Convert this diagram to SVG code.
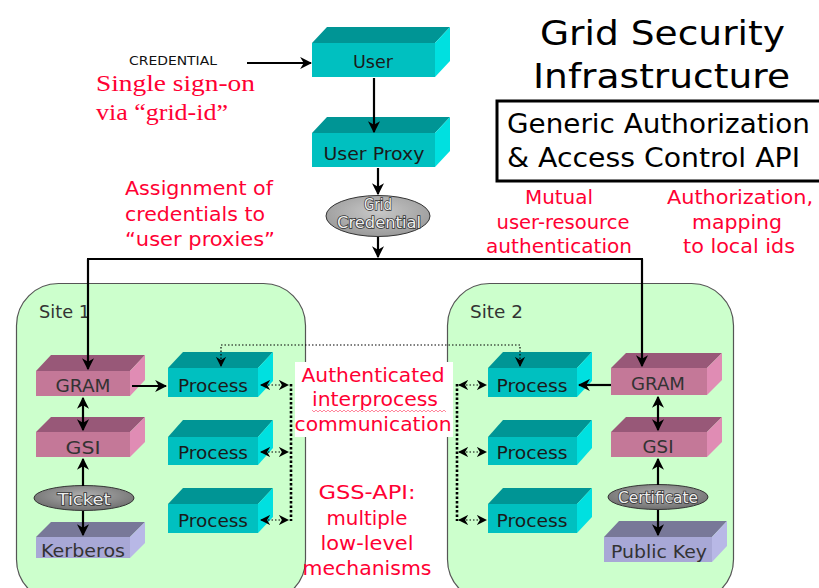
<svg xmlns="http://www.w3.org/2000/svg" width="819" height="588" viewBox="0 0 819 588">
<style>
.sans{font-family:"DejaVu Sans","Verdana",sans-serif}
.title{font-size:34px;fill:#000}
.api{font-size:26px;fill:#000}
.red{font-family:"DejaVu Sans","Verdana",sans-serif;font-size:19px;fill:#FF0033;text-anchor:middle}
.serifred{font-family:"Liberation Serif","Times New Roman",serif;font-size:24px;fill:#FF0033}
.bt{font-family:"DejaVu Sans","Verdana",sans-serif;font-size:18px;fill:#1a1a1a;text-anchor:middle}
.pt{font-family:"DejaVu Sans","Verdana",sans-serif;font-size:18px;fill:#333;text-anchor:middle}
.et{font-family:"DejaVu Sans","Verdana",sans-serif;font-size:16px;fill:#eee;stroke:#333;stroke-width:1.6;paint-order:stroke;text-anchor:middle}
.st{font-family:"DejaVu Sans","Verdana",sans-serif;font-size:17px;fill:#333}
.tf{fill:#00C0C0}.tt{fill:#009595}.tr{fill:#00E0E0}
.pf{fill:#C47898}.ptp{fill:#985878}.pr{fill:#E08CB4}
.lf{fill:#A8A8D6}.lt{fill:#787898}.lr{fill:#B8B8E6}
.site{fill:#CCFFCC;stroke:#555;stroke-width:1.2}
.ln{stroke:#000;stroke-width:2.2;fill:none}
.dot{stroke:#000;stroke-width:1.2;stroke-dasharray:1.5 2;fill:none}
.dotv{stroke:#000;stroke-width:2.6;stroke-dasharray:2.5 2;fill:none}
.ell{fill:url(#eg);stroke:#333;stroke-width:1}
</style>
<defs>
<marker id="ah" viewBox="0 0 10 10" refX="9" refY="5" markerWidth="5.5" markerHeight="5.5" orient="auto-start-reverse" markerUnits="strokeWidth">
<path d="M0,0 L10,5 L0,10 L3,5 z" fill="#000"/>
</marker>
<marker id="dh" viewBox="0 0 10 10" refX="9" refY="5" markerWidth="8.5" markerHeight="8.5" orient="auto-start-reverse" markerUnits="strokeWidth">
<path d="M0,0 L10,5 L0,10 L3,5 z" fill="#000"/>
</marker>
<radialGradient id="eg" cx="0.5" cy="0.4" r="0.6">
<stop offset="0" stop-color="#b0b0b0"/>
<stop offset="1" stop-color="#707070"/>
</radialGradient>
<radialGradient id="eg2" cx="0.5" cy="0.4" r="0.6">
<stop offset="0" stop-color="#c8c8c8"/>
<stop offset="1" stop-color="#9a9a9a"/>
</radialGradient>
</defs>

<rect width="819" height="588" fill="#fff"/>

<!-- Sites -->
<g id="site1">
<rect class="site" x="16.5" y="283.5" width="289" height="318" rx="42"/>
<text class="st" x="39" y="318" textLength="51" lengthAdjust="spacingAndGlyphs">Site 1</text>
</g>
<g id="site2">
<rect class="site" x="447.5" y="283.5" width="286" height="318" rx="42"/>
<text class="st" x="470" y="318" textLength="53" lengthAdjust="spacingAndGlyphs">Site 2</text>
</g>

<!-- Title -->
<g id="title">
<text class="sans title" x="540" y="45" textLength="245" lengthAdjust="spacingAndGlyphs">Grid Security</text>
<text class="sans title" x="533" y="88" textLength="257" lengthAdjust="spacingAndGlyphs">Infrastructure</text>
</g>
<g id="api-box">
<rect x="497" y="101" width="330" height="80" fill="none" stroke="#000" stroke-width="3"/>
<text class="sans api" x="507" y="133" textLength="303" lengthAdjust="spacingAndGlyphs">Generic Authorization</text>
<text class="sans api" x="507" y="167" textLength="293" lengthAdjust="spacingAndGlyphs">&amp; Access Control API</text>
</g>

<!-- Labels -->
<g id="labels">
<text class="sans" x="129" y="65" font-size="12" fill="#111" textLength="88" lengthAdjust="spacingAndGlyphs">CREDENTIAL</text>
<text class="serifred" x="96" y="91" textLength="159" lengthAdjust="spacingAndGlyphs">Single sign-on</text>
<text class="serifred" x="96" y="120" textLength="132" lengthAdjust="spacingAndGlyphs">via “grid-id”</text>
<text class="red" x="199" y="195" textLength="148" lengthAdjust="spacingAndGlyphs">Assignment of</text>
<text class="red" x="195" y="221" textLength="140" lengthAdjust="spacingAndGlyphs">credentials to</text>
<text class="red" x="200" y="246" textLength="150" lengthAdjust="spacingAndGlyphs">“user proxies”</text>
<text class="red" x="559" y="204" textLength="68" lengthAdjust="spacingAndGlyphs">Mutual</text>
<text class="red" x="563" y="229" textLength="133" lengthAdjust="spacingAndGlyphs">user-resource</text>
<text class="red" x="559" y="253" textLength="146" lengthAdjust="spacingAndGlyphs">authentication</text>
<text class="red" x="740" y="204" textLength="146" lengthAdjust="spacingAndGlyphs">Authorization,</text>
<text class="red" x="737" y="229" textLength="90" lengthAdjust="spacingAndGlyphs">mapping</text>
<text class="red" x="739" y="253" textLength="112" lengthAdjust="spacingAndGlyphs">to local ids</text>
</g>

<!-- Boxes -->
<g id="user">
<polygon class="tf" points="312,43 435,43 435,77 312,77"/>
<polygon class="tt" points="312,43 327,27 450,27 435,43"/>
<polygon class="tr" points="435,43 450,27 450,61 435,77"/>
<text class="bt" x="373" y="68" textLength="40" lengthAdjust="spacingAndGlyphs">User</text>
</g>
<g id="user-proxy">
<polygon class="tf" points="312,133 435,133 435,167 312,167"/>
<polygon class="tt" points="312,133 327,117 450,117 435,133"/>
<polygon class="tr" points="435,133 450,117 450,151 435,167"/>
<text class="bt" x="374" y="160" textLength="101" lengthAdjust="spacingAndGlyphs">User Proxy</text>
</g>
<g id="grid-credential">
<ellipse cx="378" cy="216" rx="52" ry="20.5" fill="url(#eg2)" stroke="#333" stroke-width="1"/>
<text class="et" x="378" y="210" font-size="12.5" fill="#f2f2f2" stroke="#555" stroke-width="0.9" textLength="28" lengthAdjust="spacingAndGlyphs">Grid</text>
<text class="et" x="379" y="228" font-size="12.5" fill="#f2f2f2" stroke="#555" stroke-width="0.9" textLength="84" lengthAdjust="spacingAndGlyphs">Credential</text>
</g>

<!-- Site 1 nodes -->
<g id="gram1">
<polygon class="pf" points="36,371 130,371 130,396 36,396"/>
<polygon class="ptp" points="36,371 51,355 145,355 130,371"/>
<polygon class="pr" points="130,371 145,355 145,380 130,396"/>
<text class="pt" x="83" y="392" textLength="55" lengthAdjust="spacingAndGlyphs">GRAM</text>
</g>
<g id="gsi1">
<polygon class="pf" points="36,432 130,432 130,457 36,457"/>
<polygon class="ptp" points="36,432 51,417 145,417 130,432"/>
<polygon class="pr" points="130,432 145,417 145,442 130,457"/>
<text class="pt" x="83" y="454" textLength="35" lengthAdjust="spacingAndGlyphs">GSI</text>
</g>
<g id="ticket">
<ellipse class="ell" cx="84" cy="498" rx="50" ry="12.5"/>
<text class="et" x="84" y="505" font-size="17" textLength="53" lengthAdjust="spacingAndGlyphs">Ticket</text>
</g>
<g id="kerberos">
<polygon class="lf" points="36,537 130,537 130,558 36,558"/>
<polygon class="lt" points="36,537 51,522 145,522 130,537"/>
<polygon class="lr" points="130,537 145,522 145,543 130,558"/>
<text class="pt" x="83" y="557" textLength="84" lengthAdjust="spacingAndGlyphs">Kerberos</text>
</g>
<g id="process1a">
<polygon class="tf" points="168,368 258,368 258,397 168,397"/>
<polygon class="tt" points="168,368 183,352 273,352 258,368"/>
<polygon class="tr" points="258,368 273,352 273,381 258,397"/>
<text class="bt" x="213" y="392" textLength="70" lengthAdjust="spacingAndGlyphs">Process</text>
</g>
<g id="process1b">
<polygon class="tf" points="168,437 258,437 258,465 168,465"/>
<polygon class="tt" points="168,437 183,420 273,420 258,437"/>
<polygon class="tr" points="258,437 273,420 273,448 258,465"/>
<text class="bt" x="213" y="459" textLength="70" lengthAdjust="spacingAndGlyphs">Process</text>
</g>
<g id="process1c">
<polygon class="tf" points="168,504 258,504 258,533 168,533"/>
<polygon class="tt" points="168,504 183,488 273,488 258,504"/>
<polygon class="tr" points="258,504 273,488 273,517 258,533"/>
<text class="bt" x="213" y="527" textLength="70" lengthAdjust="spacingAndGlyphs">Process</text>
</g>

<!-- Site 2 nodes -->
<g id="process2a">
<polygon class="tf" points="488,368 577,368 577,397 488,397"/>
<polygon class="tt" points="488,368 503,352 592,352 577,368"/>
<polygon class="tr" points="577,368 592,352 592,381 577,397"/>
<text class="bt" x="532" y="392" textLength="71" lengthAdjust="spacingAndGlyphs">Process</text>
</g>
<g id="process2b">
<polygon class="tf" points="488,437 577,437 577,465 488,465"/>
<polygon class="tt" points="488,437 503,420 592,420 577,437"/>
<polygon class="tr" points="577,437 592,420 592,448 577,465"/>
<text class="bt" x="532" y="459" textLength="71" lengthAdjust="spacingAndGlyphs">Process</text>
</g>
<g id="process2c">
<polygon class="tf" points="488,504 577,504 577,533 488,533"/>
<polygon class="tt" points="488,504 503,488 592,488 577,504"/>
<polygon class="tr" points="577,504 592,488 592,517 577,533"/>
<text class="bt" x="532" y="527" textLength="71" lengthAdjust="spacingAndGlyphs">Process</text>
</g>
<g id="gram2">
<polygon class="pf" points="611,368 707,368 707,395 611,395"/>
<polygon class="ptp" points="611,368 626,353 722,353 707,368"/>
<polygon class="pr" points="707,368 722,353 722,380 707,395"/>
<text class="pt" x="658" y="390" textLength="54" lengthAdjust="spacingAndGlyphs">GRAM</text>
</g>
<g id="gsi2">
<polygon class="pf" points="611,432 707,432 707,457 611,457"/>
<polygon class="ptp" points="611,432 626,417 722,417 707,432"/>
<polygon class="pr" points="707,432 722,417 722,442 707,457"/>
<text class="pt" x="658" y="453" textLength="31" lengthAdjust="spacingAndGlyphs">GSI</text>
</g>
<g id="certificate">
<ellipse class="ell" cx="658" cy="497" rx="50" ry="12.5"/>
<text class="et" x="658" y="503" font-size="15" stroke-width="1.3" textLength="80" lengthAdjust="spacingAndGlyphs">Certificate</text>
</g>
<g id="public-key">
<polygon class="lf" points="604,537 712,537 712,562 604,562"/>
<polygon class="lt" points="604,537 619,521 727,521 712,537"/>
<polygon class="lr" points="712,537 727,521 727,546 712,562"/>
<text class="pt" x="659" y="558" textLength="96" lengthAdjust="spacingAndGlyphs">Public Key</text>
</g>

<!-- Connectors -->
<g id="connectors">
<line class="ln" x1="247" y1="63" x2="311" y2="63" marker-end="url(#ah)"/>
<line class="ln" x1="374" y1="78" x2="374" y2="132" marker-end="url(#ah)"/>
<line class="ln" x1="378" y1="168" x2="378" y2="194" marker-end="url(#ah)"/>
<line class="ln" x1="378" y1="237" x2="378" y2="257" marker-end="url(#ah)"/>
<line class="ln" x1="87" y1="259" x2="643" y2="259" stroke-width="2.5"/>
<line class="ln" x1="88" y1="259" x2="88" y2="369" marker-end="url(#ah)"/>
<line class="ln" x1="642" y1="259" x2="642" y2="366" marker-end="url(#ah)"/>
<line class="ln" x1="132" y1="386" x2="166" y2="386" marker-end="url(#ah)"/>
<line class="ln" x1="611" y1="385" x2="579" y2="385" marker-end="url(#ah)"/>
<line class="ln" x1="83" y1="398" x2="83" y2="430" marker-start="url(#ah)" marker-end="url(#ah)"/>
<line class="ln" x1="83" y1="486" x2="83" y2="459" marker-end="url(#ah)"/>
<line class="ln" x1="83" y1="511" x2="83" y2="535" marker-end="url(#ah)"/>
<line class="ln" x1="658" y1="397" x2="658" y2="430" marker-start="url(#ah)" marker-end="url(#ah)"/>
<line class="ln" x1="658" y1="485" x2="658" y2="459" marker-end="url(#ah)"/>
<line class="ln" x1="658" y1="510" x2="658" y2="535" marker-end="url(#ah)"/>
<path class="dot" d="M221,366 V345 H520 V366" marker-start="url(#dh)" marker-end="url(#dh)"/>
<line class="dot" x1="261" y1="385" x2="288" y2="385" marker-start="url(#dh)" marker-end="url(#dh)"/>
<line class="dot" x1="261" y1="452" x2="288" y2="452" marker-start="url(#dh)" marker-end="url(#dh)"/>
<line class="dot" x1="261" y1="520" x2="288" y2="520" marker-start="url(#dh)" marker-end="url(#dh)"/>
<line class="dotv" x1="291" y1="384" x2="291" y2="521"/>
<line class="dot" x1="459" y1="385" x2="486" y2="385" marker-start="url(#dh)" marker-end="url(#dh)"/>
<line class="dot" x1="459" y1="452" x2="486" y2="452" marker-start="url(#dh)" marker-end="url(#dh)"/>
<line class="dot" x1="459" y1="520" x2="486" y2="520" marker-start="url(#dh)" marker-end="url(#dh)"/>
<line class="dotv" x1="457" y1="384" x2="457" y2="521"/>
</g>

<!-- Middle labels -->
<g id="ipc-label">
<rect x="295" y="362" width="158" height="75" fill="#fff"/>
<text class="red" x="373" y="382" textLength="143" lengthAdjust="spacingAndGlyphs">Authenticated</text>
<text class="red" x="375" y="406" textLength="126" lengthAdjust="spacingAndGlyphs">interprocess</text>
<path d="M312,410 l2,2 l2,-2 l2,2 l2,-2 l2,2 l2,-2 l2,2 l2,-2 l2,2 l2,-2 l2,2 l2,-2 l2,2 l2,-2 l2,2 l2,-2 l2,2 l2,-2 l2,2 l2,-2 l2,2 l2,-2 l2,2 l2,-2 l2,2 l2,-2 l2,2 l2,-2 l2,2 l2,-2 l2,2 l2,-2 l2,2 l2,-2 l2,2 l2,-2 l2,2 l2,-2 l2,2 l2,-2 l2,2 l2,-2 l2,2 l2,-2 l2,2 l2,-2 l2,2 l2,-2 l2,2 l2,-2 l2,2 l2,-2 l2,2 l2,-2 l2,2 l2,-2 l2,2 l2,-2 l2,2 l2,-2 l2,2 l2,-2 l2,2 l2,-2 l2,2 l2,-2 l2,2" fill="none" stroke="#FF6A85" stroke-width="0.8"/>
<text class="red" x="373" y="431" textLength="157" lengthAdjust="spacingAndGlyphs">communication</text>
</g>
<g id="gss-label">
<text class="red" x="367" y="499" textLength="97" lengthAdjust="spacingAndGlyphs">GSS-API:</text>
<text class="red" x="367" y="525" textLength="81" lengthAdjust="spacingAndGlyphs">multiple</text>
<text class="red" x="367" y="550" textLength="93" lengthAdjust="spacingAndGlyphs">low-level</text>
<text class="red" x="367" y="575" textLength="129" lengthAdjust="spacingAndGlyphs">mechanisms</text>
</g>
</svg>
